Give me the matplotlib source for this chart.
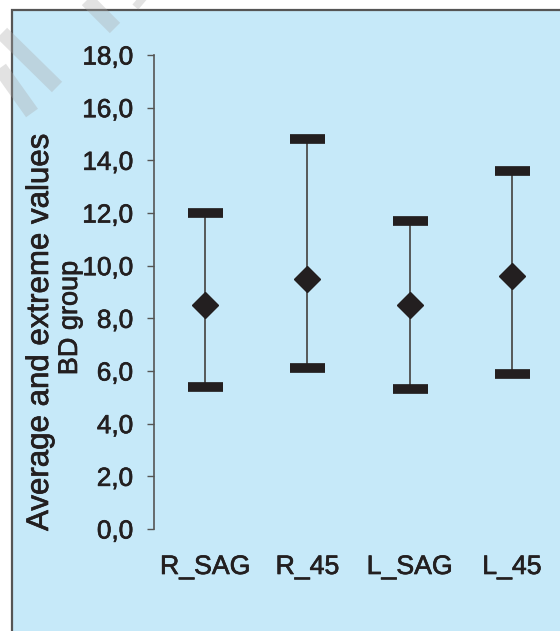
import matplotlib
matplotlib.use('Agg')
import matplotlib.pyplot as plt
import matplotlib.patheffects as pe
import numpy as np
from matplotlib.patches import Rectangle
from matplotlib.lines import Line2D

categories = ['R_SAG', 'R_45', 'L_SAG', 'L_45']
means = [8.5, 9.5, 8.5, 9.6]
mins = [5.4, 6.1, 5.3, 5.9]
maxs = [12.0, 14.8, 11.7, 13.6]
yticks = [0, 2, 4, 6, 8, 10, 12, 14, 16, 18]

plt.rcParams['font.family'] = ['Liberation Sans', 'DejaVu Sans']
ink = '#231f20'
bg = '#c6e9f9'
heavy = [pe.withStroke(linewidth=0.5, foreground=ink)]

fig = plt.figure(figsize=(5.6, 6.31), dpi=100)
W, H = 560, 631

# blue panel with dark frame on left/top
fig.patches.append(Rectangle((12 / W, -0.1), 1.2, 1 - 10 / H + 0.1,
                             transform=fig.transFigure, facecolor=bg,
                             edgecolor='#555555', linewidth=1.6, zorder=-1))

ax = fig.add_axes([154 / W, (H - 529) / H, (563 - 154) / W, (529 - 55) / H])
ax.set_facecolor('none')

x = np.arange(1, len(categories) + 1)
m = np.array(means)
lo = m - np.array(mins)
hi = np.array(maxs) - m

line, caps, bars = ax.errorbar(x, means, yerr=[lo, hi], fmt='D', color=ink,
                               markersize=13, ecolor='#4d4d4d', elinewidth=1.3,
                               capsize=12.6, capthick=7, zorder=3)
for c in caps:
    c.set_color(ink)
    c.set_markeredgecolor(ink)
    c.set_markerfacecolor(ink)

ax.set_xlim(0.5, 4.5)
ax.set_ylim(0, 18)
ax.set_yticks(yticks)
ax.set_yticklabels([f'{v:.1f}'.replace('.', ',') for v in yticks])
ax.set_xticks(x)
ax.set_xticklabels(categories)

for s in ['top', 'right', 'bottom']:
    ax.spines[s].set_visible(False)
ax.spines['left'].set_color('#555555')
ax.spines['left'].set_linewidth(1.2)

ax.tick_params(axis='y', length=5, width=1, color='#555555', pad=10,
               labelsize=18.8, labelcolor=ink)
ax.tick_params(axis='x', length=0, pad=18, labelsize=19.2, labelcolor=ink)
for t in ax.get_xticklabels() + ax.get_yticklabels():
    t.set_path_effects(heavy)

fig.text(40 / W, (H - 332) / H, 'Average and extreme values',
         rotation=90, ha='center', va='center', fontsize=22.5, color=ink,
         path_effects=heavy)
fig.text(70 / W, (H - 318) / H, 'BD group',
         rotation=90, ha='center', va='center', fontsize=19.5, color=ink,
         path_effects=heavy)

# faint diagonal watermark stripes
stripes = [((0, 68), (32, 113)), ((2, 33), (57, 87)),
           ((87, 0), (115, 28)), ((136, -2), (143, 4))]
for (x0, y0), (x1, y1) in stripes:
    fig.lines.append(Line2D([x0 / W, x1 / W], [1 - y0 / H, 1 - y1 / H],
                            transform=fig.transFigure, color='#a8a8a8',
                            alpha=0.33, linewidth=10.5, solid_capstyle='butt',
                            zorder=5))

fig.savefig('out.png', dpi=100)
